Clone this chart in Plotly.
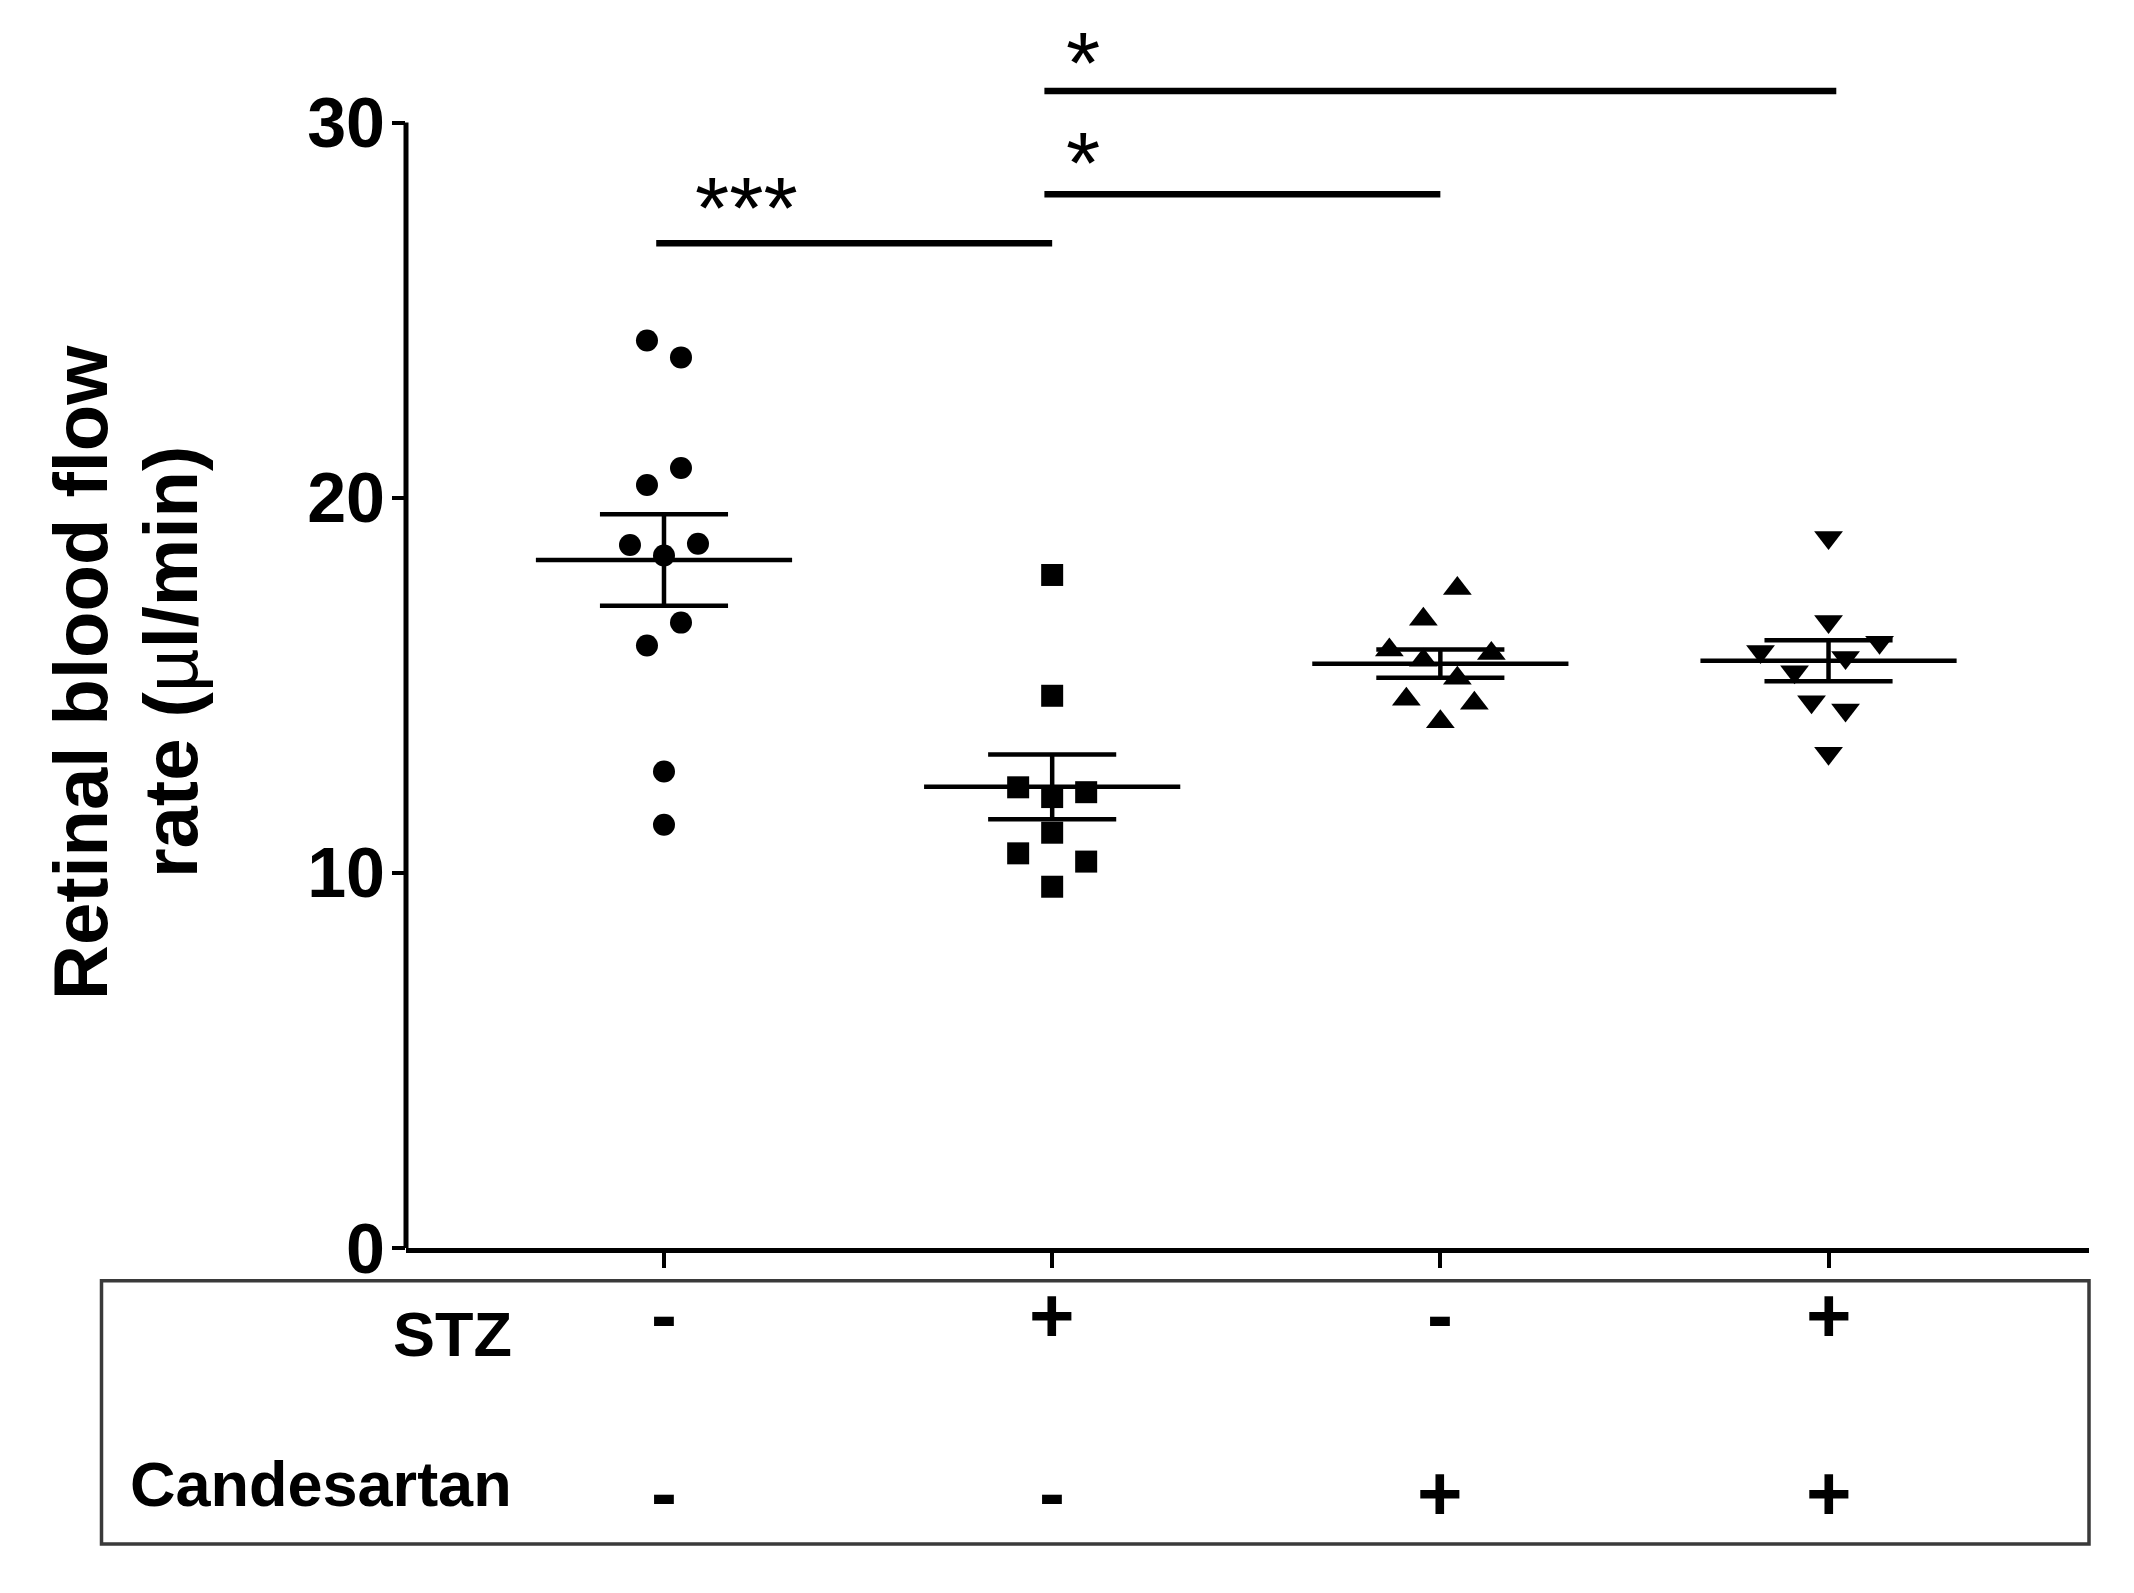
import numpy as np
import plotly.graph_objects as go

# ---------------- data ----------------
groups = ["Control", "STZ", "Candesartan", "STZ + Candesartan"]
symbols = ["circle", "square", "triangle-up", "triangle-down"]

g1_vals = [24.19, 23.74, 20.79, 20.34, 18.74, 18.46, 18.77, 16.67, 16.06, 12.70, 11.28]
g1_slots = [-1, 1, 1, -1, -2, 0, 2, 1, -1, 0, 0]
g2_vals = [17.94, 14.72, 12.28, 12.02, 12.15, 11.07, 10.52, 10.30, 9.63]
g2_slots = [0, 0, -2, 0, 2, 0, -2, 2, 0]
g3_vals = [17.58, 16.76, 15.94, 15.67, 15.85, 15.19, 14.63, 14.52, 14.03]
g3_slots = [1, -1, -3, -1, 3, 1, -2, 2, 0]
g4_vals = [18.94, 16.70, 16.15, 15.90, 15.74, 15.36, 14.56, 14.34, 13.19]
g4_slots = [0, 0, 3, -4, 1, -2, -1, 1, 0]

stz_row = ["-", "+", "-", "+"]
cand_row = ["-", "-", "+", "+"]
row_labels = ["STZ", "Candesartan"]

y_title_lines = ["<b>Retinal blood flow</b>", "<b>rate (</b>\u00b5<b>l/min)</b>"]
y_ticks = [0, 10, 20, 30]

bracket_from = [0, 1, 1]
bracket_to = [1, 2, 3]
bracket_y = [26.78, 28.09, 30.84]
bracket_text = ["***", "*", "*"]
bracket_text_y = [28.0, 29.2, 31.86]

# ---------------- layout geometry ----------------
OFF = 8                      # browser default body margin
WIN_W, WIN_H = 2134, 1593
W, H = WIN_W - 2 * OFF, WIN_H - 2 * OFF
L, R, T, B = 406 - OFF, 2089 - OFF, 25 - OFF, 1248 - OFF
Y_TOP = 32.6
X_RANGE = [-0.6646, 3.671]
SLOT = 0.0438
MEAN_HALF = 0.33
CAP_HALF = 0.165
FONT = "Liberation Sans, Arial, sans-serif"


def px_x(p):
    """window pixel -> paper x"""
    return (p - OFF - L) / (R - L)


def px_y(p):
    """window pixel -> paper y"""
    return (B - (p - OFF)) / (B - T)


values = [g1_vals, g2_vals, g3_vals, g4_vals]
slots = [g1_slots, g2_slots, g3_slots, g4_slots]
marker_sizes = [22, 22, 25, 25]

fig = go.Figure()

for i, (vals, sl) in enumerate(zip(values, slots)):
    xs = [i + s * SLOT for s in sl]
    fig.add_trace(go.Scatter(
        x=xs, y=vals, mode="markers", name=groups[i],
        marker=dict(symbol=symbols[i], size=marker_sizes[i], color="black",
                    line=dict(width=0)),
        showlegend=False, cliponaxis=False))
    arr = np.array(vals)
    m = arr.mean()
    s = arr.std(ddof=1) / np.sqrt(len(arr))
    fig.add_trace(go.Scatter(
        x=[i - MEAN_HALF, i + MEAN_HALF], y=[m, m], mode="lines",
        line=dict(color="black", width=4.5), showlegend=False, hoverinfo="skip"))
    fig.add_trace(go.Scatter(
        x=[i - CAP_HALF, i + CAP_HALF, None, i, i, None, i - CAP_HALF, i + CAP_HALF],
        y=[m + s, m + s, None, m - s, m + s, None, m - s, m - s], mode="lines",
        line=dict(color="black", width=4.5), showlegend=False, hoverinfo="skip"))

# significance brackets
for a, b, yv in zip(bracket_from, bracket_to, bracket_y):
    fig.add_trace(go.Scatter(
        x=[a - 0.02, b + (0.02 if b == 3 else 0.0)], y=[yv, yv], mode="lines",
        line=dict(color="black", width=6.5), showlegend=False, hoverinfo="skip"))

star_x = [0.213, 1.08, 1.08]
for sx, ty, txt in zip(star_x, bracket_text_y, bracket_text):
    fig.add_annotation(x=sx, y=ty, xref="x", yref="y", text=txt, showarrow=False,
                       xanchor="center", yanchor="middle", yshift=-10,
                       font=dict(family=FONT, size=88, color="black"))

# y axis line (only up to 30)
fig.add_shape(type="line", xref="paper", yref="y", x0=0, x1=0, y0=0, y1=y_ticks[-1],
              line=dict(color="black", width=5))

# treatment table box
fig.add_shape(type="rect", xref="paper", yref="paper",
              x0=px_x(101.5), x1=px_x(2089), y0=px_y(1544), y1=px_y(1280.7),
              line=dict(color="#3a3a3a", width=3.5))

# row labels
for lab, yc in zip(row_labels, [1334, 1484]):
    fig.add_annotation(x=px_x(514), y=px_y(yc), xref="paper", yref="paper", text=lab,
                       showarrow=False, xanchor="right", yanchor="middle",
                       font=dict(family=FONT, size=63, color="black", weight="bold"))

for row, yc in zip([stz_row, cand_row], [1315, 1493]):
    for i, sgn in enumerate(row):
        fig.add_annotation(x=i, y=px_y(yc), xref="x", yref="paper", text=sgn,
                           showarrow=False, xanchor="center", yanchor="middle",
                           font=dict(family=FONT, size=78, color="black", weight="bold"))

# y-axis title (two rotated lines)
for txt, cx, cy in zip(y_title_lines, [80, 170], [673, 662]):
    fig.add_annotation(x=px_x(cx), y=px_y(cy), xref="paper", yref="paper",
                       text=txt, textangle=-90, showarrow=False,
                       xanchor="center", yanchor="middle",
                       font=dict(family=FONT, size=76, color="black"))

fig.update_layout(
    width=W, height=H,
    margin=dict(l=L, r=W - R, t=T, b=H - B, autoexpand=False),
    plot_bgcolor="white", paper_bgcolor="white",
    showlegend=False,
    xaxis=dict(range=X_RANGE, showgrid=False, zeroline=False, showline=True,
               linecolor="black", linewidth=5, ticks="outside", ticklen=15,
               tickwidth=4, tickcolor="black", tickvals=list(range(len(groups))),
               showticklabels=False, fixedrange=True),
    yaxis=dict(range=[0, Y_TOP], showgrid=False, zeroline=False, showline=False,
               ticks="outside", ticklen=13, tickwidth=4, tickcolor="black",
               tickvals=y_ticks, ticktext=[str(v) for v in y_ticks],
               ticklabelstandoff=-7,
               tickfont=dict(family=FONT, size=70, color="black", weight="bold"),
               fixedrange=True),
)

fig.write_html("out.html")
